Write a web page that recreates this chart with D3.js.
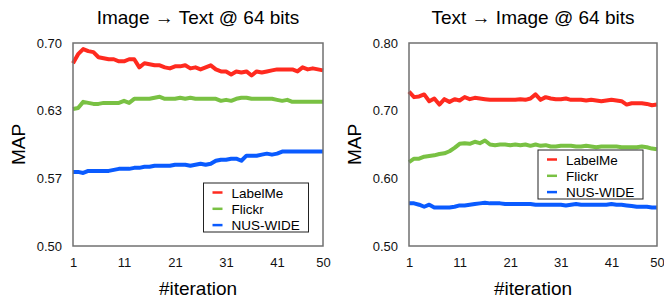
<!DOCTYPE html>
<html>
<head>
<meta charset="utf-8">
<script src="https://cdn.jsdelivr.net/npm/d3@7"></script>
<style>
  body { margin: 0; background: #fff; }
  svg { font-family: "Liberation Sans", Arial, Helvetica, sans-serif; }
  .tick text { font-size: 13px; fill: #111; }
</style>
</head>
<body>
<div id="chart"></div>
<script>
// iterations on the x axis
const iterations = d3.range(1, 51);
const xTickValues = [1, 11, 21, 31, 41, 50];
const seriesNames = ['LabelMe', 'Flickr', 'NUS-WIDE'];
const seriesColors = ['#ff2a1f', '#79c143', '#0a5bff'];

// Image -> Text
const i2tLabelMe = [0.680, 0.689, 0.694, 0.692, 0.691, 0.686, 0.685, 0.684, 0.684, 0.682,
  0.682, 0.684, 0.684, 0.676, 0.680, 0.679, 0.678, 0.678, 0.676, 0.675,
  0.677, 0.677, 0.678, 0.675, 0.676, 0.674, 0.676, 0.678, 0.674, 0.672,
  0.672, 0.669, 0.672, 0.671, 0.672, 0.668, 0.672, 0.671, 0.672, 0.673,
  0.674, 0.674, 0.674, 0.674, 0.672, 0.676, 0.674, 0.675, 0.674, 0.673];
const i2tFlickr = [0.635, 0.636, 0.642, 0.641, 0.640, 0.640, 0.641, 0.641, 0.641, 0.641,
  0.643, 0.641, 0.645, 0.645, 0.645, 0.645, 0.646, 0.647, 0.645, 0.645,
  0.645, 0.646, 0.645, 0.646, 0.645, 0.645, 0.645, 0.645, 0.645, 0.643,
  0.644, 0.643, 0.645, 0.646, 0.646, 0.645, 0.645, 0.645, 0.645, 0.645,
  0.644, 0.643, 0.644, 0.642, 0.642, 0.642, 0.642, 0.642, 0.642, 0.642];
const i2tNus = [0.573, 0.573, 0.572, 0.574, 0.574, 0.574, 0.574, 0.574, 0.575, 0.576,
  0.576, 0.576, 0.577, 0.577, 0.578, 0.578, 0.579, 0.579, 0.579, 0.579,
  0.580, 0.580, 0.580, 0.579, 0.580, 0.581, 0.580, 0.581, 0.584, 0.585,
  0.585, 0.586, 0.586, 0.584, 0.589, 0.589, 0.589, 0.590, 0.591, 0.590,
  0.591, 0.593, 0.593, 0.593, 0.593, 0.593, 0.593, 0.593, 0.593, 0.593];

// Text -> Image
const t2iLabelMe = [0.728, 0.720, 0.721, 0.724, 0.714, 0.718, 0.709, 0.717, 0.713, 0.717,
  0.715, 0.720, 0.717, 0.719, 0.718, 0.717, 0.716, 0.716, 0.716, 0.716,
  0.716, 0.716, 0.717, 0.716, 0.718, 0.724, 0.716, 0.720, 0.718, 0.717,
  0.717, 0.718, 0.716, 0.716, 0.716, 0.715, 0.716, 0.715, 0.714, 0.715,
  0.716, 0.715, 0.714, 0.709, 0.711, 0.711, 0.711, 0.710, 0.708, 0.709];
const t2iFlickr = [0.624, 0.629, 0.629, 0.632, 0.633, 0.634, 0.636, 0.637, 0.640, 0.645,
  0.651, 0.652, 0.651, 0.654, 0.652, 0.656, 0.650, 0.649, 0.650, 0.650,
  0.649, 0.650, 0.649, 0.650, 0.648, 0.650, 0.648, 0.649, 0.647, 0.647,
  0.648, 0.648, 0.648, 0.647, 0.647, 0.648, 0.647, 0.646, 0.647, 0.647,
  0.647, 0.647, 0.646, 0.646, 0.646, 0.646, 0.647, 0.646, 0.644, 0.643];
const t2iNus = [0.563, 0.563, 0.561, 0.558, 0.561, 0.557, 0.557, 0.557, 0.557, 0.558,
  0.560, 0.560, 0.561, 0.562, 0.563, 0.564, 0.563, 0.563, 0.563, 0.562,
  0.562, 0.562, 0.562, 0.562, 0.562, 0.561, 0.561, 0.561, 0.561, 0.561,
  0.561, 0.560, 0.561, 0.562, 0.561, 0.561, 0.561, 0.561, 0.561, 0.561,
  0.562, 0.561, 0.561, 0.560, 0.559, 0.558, 0.558, 0.558, 0.557, 0.557];

// y ticks are evenly spaced, labels rounded
const i2tYTickLabels = ['0.50', '0.57', '0.63', '0.70'];
const t2iYTickLabels = ['0.50', '0.60', '0.70', '0.80'];

const width = 664;
const height = 299;
const svg = d3.select('#chart').append('svg')
  .attr('viewBox', [0, 0, width, height])
  .attr('width', width)
  .attr('height', height);

function drawPanel(opts) {
  const x = d3.scaleLinear().domain([1, 50]).range([opts.left, opts.right]);
  const y = d3.scaleLinear().domain(opts.yDomain).range([opts.bottom, opts.top]);
  const yTicks = d3.range(4).map(i => opts.yDomain[0] + (opts.yDomain[1] - opts.yDomain[0]) * i / 3);

  const g = svg.append('g');

  g.append('text')
    .attr('x', (opts.left + opts.right) / 2)
    .attr('y', 24)
    .attr('text-anchor', 'middle')
    .style('font-size', '19px')
    .text(opts.title);

  g.append('g')
    .attr('transform', `translate(${opts.left},0)`)
    .call(d3.axisLeft(y).tickValues(yTicks).tickSize(0).tickPadding(11)
      .tickFormat((d, i) => opts.yLabels[i]))
    .call(a => a.select('.domain').remove());

  g.append('g')
    .attr('transform', `translate(0,${opts.bottom})`)
    .call(d3.axisBottom(x).tickValues(xTickValues).tickSize(0).tickPadding(12)
      .tickFormat(d3.format('d')))
    .call(a => a.select('.domain').remove());

  const line = d3.line()
    .x((d, i) => x(iterations[i]))
    .y(d => y(d));

  g.selectAll('.series').data(opts.series).join('path')
    .attr('class', 'series')
    .attr('d', d => line(d))
    .attr('fill', 'none')
    .attr('stroke', (d, i) => seriesColors[i])
    .attr('stroke-width', 4)
    .attr('stroke-linejoin', 'round');

  // frame
  g.append('rect')
    .attr('x', opts.left).attr('y', opts.top)
    .attr('width', opts.right - opts.left).attr('height', opts.bottom - opts.top)
    .attr('fill', 'none').attr('stroke', '#707070').attr('stroke-width', 1.5);

  g.append('text')
    .attr('transform', `translate(${opts.left - 48},${(opts.top + opts.bottom) / 2}) rotate(-90)`)
    .attr('text-anchor', 'middle')
    .style('font-size', '19px')
    .text('MAP');

  g.append('text')
    .attr('x', (opts.left + opts.right) / 2)
    .attr('y', 295)
    .attr('text-anchor', 'middle')
    .style('font-size', '19px')
    .text('#iteration');

  // legend
  const lg = g.append('g').attr('transform', `translate(${opts.legendX},${opts.legendY})`);
  lg.append('rect')
    .attr('width', 105).attr('height', 49)
    .attr('fill', '#fff').attr('stroke', '#222').attr('stroke-width', 1);
  lg.selectAll('line').data(seriesNames).join('line')
    .attr('x1', 9).attr('x2', 19)
    .attr('y1', (d, i) => 9.5 + 16.3 * i).attr('y2', (d, i) => 9.5 + 16.3 * i)
    .attr('stroke', (d, i) => seriesColors[i]).attr('stroke-width', 2.5);
  lg.selectAll('text').data(seriesNames).join('text')
    .attr('x', 28)
    .attr('y', (d, i) => 14.5 + 16.3 * i)
    .style('font-size', '13.5px')
    .text(d => d);
}

drawPanel({
  title: 'Image \u2192 Text @ 64 bits',
  left: 73, right: 323, top: 43, bottom: 246,
  yDomain: [0.50, 0.70], yLabels: i2tYTickLabels,
  series: [i2tLabelMe, i2tFlickr, i2tNus],
  legendX: 203.5, legendY: 183
});

drawPanel({
  title: 'Text \u2192 Image @ 64 bits',
  left: 409, right: 657, top: 43, bottom: 246,
  yDomain: [0.50, 0.80], yLabels: t2iYTickLabels,
  series: [t2iLabelMe, t2iFlickr, t2iNus],
  legendX: 538, legendY: 150
});
</script>
</body>
</html>
